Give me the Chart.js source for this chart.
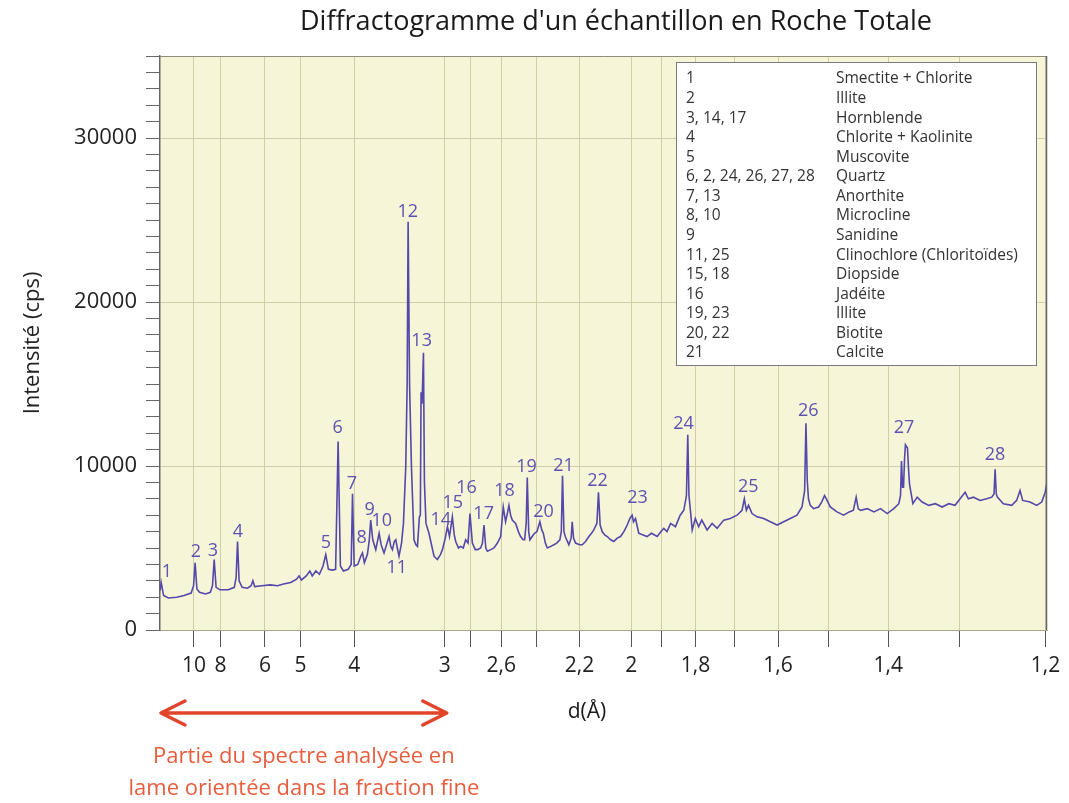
<!DOCTYPE html>
<html lang="fr">
<head>
<meta charset="utf-8">
<title>Diffractogramme - Roche Totale</title>
<script src="https://cdn.jsdelivr.net/npm/chart.js@4.4.1/dist/chart.umd.min.js"></script>
<style>
  html, body { margin: 0; padding: 0; background: #fff; }
  #wrap { width: 1069px; height: 803px; }
</style>
</head>
<body>
<div id="wrap"><canvas id="xrd" width="1069" height="803"></canvas></div>
<script>
// Cu K-alpha wavelength (Å), used to place the d-spacing ticks on the 2-theta axis
const LAMBDA = 1.5406;

// d-spacing ticks (Å) and their printed labels
const dTicks = [10, 8, 6, 5, 4, 3, 2.8, 2.6, 2.4, 2.2, 2, 1.9, 1.8, 1.7, 1.6, 1.5, 1.4, 1.3, 1.2];
const dTickLabels = ['10', '8', '6', '5', '4', '3', '', '2,6', '', '2,2', '2', '', '1,8', '', '1,6', '', '1,4', '', '1,2'];

// measured pattern: 2-theta (degrees) and intensity (cps)
const twoTheta = [
  6.0, 6.1, 6.3, 6.7, 7.4, 8.0, 8.6, 8.8, 8.93, 9.08,
  9.3, 9.8, 10.2, 10.38, 10.52, 10.68, 11.0, 11.7, 12.2, 12.35,
  12.47, 12.6, 12.85, 13.3, 13.6, 13.75, 13.9, 14.5, 15.2, 15.8,
  16.3, 16.9, 17.4, 17.6, 17.8, 18.2, 18.5, 18.7, 19.0, 19.3,
  19.6, 19.83, 20.05, 20.4, 20.65, 20.86, 21.05, 21.3, 21.7, 21.95,
  22.06, 22.2, 22.5, 22.75, 22.89, 23.05, 23.3, 23.45, 23.58, 23.75,
  24.0, 24.28, 24.45, 24.69, 24.9, 25.11, 25.25, 25.39, 25.55, 25.67,
  25.8, 25.94, 26.15, 26.31, 26.5, 26.62, 26.7, 26.82, 26.98, 27.19,
  27.35, 27.48, 27.64, 27.72, 27.78, 27.86, 27.98, 28.06, 28.19, 28.44,
  28.65, 28.86, 29.14, 29.4, 29.56, 29.8, 29.98, 30.15, 30.39, 30.55,
  30.67, 30.9, 31.08, 31.3, 31.5, 31.7, 31.86, 32.06, 32.3, 32.48,
  32.75, 32.9, 33.03, 33.18, 33.31, 33.6, 33.86, 34.15, 34.42, 34.64,
  34.83, 34.95, 35.11, 35.25, 35.39, 35.67, 35.9, 36.08, 36.3, 36.42,
  36.55, 36.64, 36.76, 36.86, 37.05, 37.25, 37.45, 37.69, 37.85, 37.98,
  38.15, 38.31, 38.6, 38.86, 39.1, 39.36, 39.48, 39.58, 39.7, 39.81,
  40.11, 40.3, 40.39, 40.5, 40.67, 41.0, 41.23, 41.5, 41.78, 42.0,
  42.19, 42.45, 42.58, 42.72, 42.89, 43.1, 43.31, 43.6, 43.86, 44.15,
  44.42, 44.7, 44.98, 45.2, 45.39, 45.5, 45.67, 45.94, 46.3, 46.64,
  47.0, 47.48, 47.8, 48.03, 48.3, 48.6, 49.0, 49.4, 49.7, 49.92,
  50.03, 50.13, 50.25, 50.4, 50.66, 50.94, 51.2, 51.64, 52.06, 52.48,
  53.03, 53.58, 54.14, 54.56, 54.75, 54.92, 55.1, 55.39, 55.81, 56.36,
  56.92, 57.48, 58.03, 58.58, 59.14, 59.56, 59.78, 59.89, 60.0, 60.1,
  60.25, 60.53, 60.94, 61.2, 61.44, 61.65, 61.92, 62.48, 63.03, 63.5,
  63.85, 64.08, 64.25, 64.44, 65.0, 65.56, 66.11, 66.67, 67.22, 67.64,
  67.78, 67.86, 67.95, 68.03, 68.12, 68.19, 68.36, 68.45, 68.53, 68.81,
  69.17, 69.58, 70.14, 70.69, 71.25, 71.81, 72.33, 72.75, 73.17, 73.44,
  73.86, 74.42, 74.97, 75.39, 75.58, 75.67, 75.77, 75.86, 76.36, 77.06,
  77.47, 77.75, 77.97, 78.58, 79.14, 79.56, 79.85, 79.97
];
const counts = [
  2400, 2900, 2100, 1950, 2000, 2100, 2250, 2700, 4100, 2500,
  2300, 2200, 2300, 2700, 4300, 2600, 2450, 2450, 2600, 3200,
  5400, 3000, 2600, 2550, 2700, 3000, 2650, 2700, 2750, 2700,
  2800, 2900, 3100, 3300, 3050, 3300, 3600, 3300, 3600, 3400,
  3900, 4600, 3700, 3650, 3700, 11500, 3900, 3600, 3700, 4000,
  8300, 3900, 4000, 4500, 4700, 4100, 4600, 5400, 6700, 5500,
  4900, 5900, 5200, 4700, 5200, 5700, 5100, 4900, 5400, 5500,
  5000, 4500, 5300, 6500, 9900, 15000, 24900, 15000, 9900, 5500,
  5200, 5100, 6900, 7000, 14500, 13800, 16900, 9000, 6500, 5900,
  5200, 4500, 4300, 4600, 4900, 5600, 6300, 5700, 6900, 5800,
  5400, 5000, 5100, 5000, 5500, 5300, 7100, 5300, 4900, 4900,
  5000, 5300, 6400, 5000, 4800, 4900, 5000, 5300, 5700, 7500,
  6600, 7000, 7600, 7000, 6700, 6500, 6000, 5700, 5500, 5500,
  6500, 9300, 6000, 5500, 5700, 5900, 6000, 6600, 6100, 5900,
  5300, 5000, 5100, 5200, 5300, 5500, 6000, 9400, 6000, 5700,
  5200, 5600, 6600, 5600, 5300, 5200, 5200, 5400, 5700, 5900,
  6100, 6500, 8400, 6400, 6000, 5800, 5700, 5500, 5400, 5600,
  5700, 6000, 6400, 6800, 7000, 6600, 6800, 5900, 5800, 5700,
  5900, 5700, 6000, 6200, 6000, 6500, 6300, 7000, 7300, 8200,
  11900, 8200, 7300, 6100, 6800, 6300, 6700, 6100, 6500, 6200,
  6700, 6800, 7000, 7300, 8000, 7300, 7600, 7100, 6900, 6800,
  6600, 6400, 6600, 6800, 7000, 7500, 8500, 12600, 9100, 8000,
  7600, 7400, 7500, 7800, 8200, 7900, 7500, 7200, 7000, 7200,
  7300, 8100, 7400, 7300, 7400, 7200, 7400, 7100, 7400, 7700,
  8200, 10300, 8700, 8700, 10500, 11300, 11100, 9800, 8900, 7700,
  8100, 7800, 7600, 7700, 7500, 7700, 7600, 8000, 8400, 8000,
  8100, 7900, 8000, 8100, 8300, 9800, 8300, 8100, 7700, 7600,
  7900, 8500, 7900, 7800, 7600, 7800, 8400, 8900
];

// peak numbers and where each number is written (2-theta, cps)
const peakIds = ['1', '2', '3', '4', '5', '6', '7', '8', '9', '10', '11', '12', '13', '14',
  '15', '16', '17', '18', '19', '20', '21', '22', '23', '24', '25', '26', '27', '28'];
const peakLabelTheta = [6.58, 9.0, 10.42, 12.5, 19.83, 20.83, 22.0, 22.83, 23.5, 24.5, 25.75, 26.67, 27.83, 29.42,
  30.42, 31.58, 33.0, 34.75, 36.58, 38.0, 39.67, 42.5, 45.83, 49.67, 55.08, 60.08, 68.08, 75.67];
const peakLabelCps = [3540, 4760, 4820, 5980, 5310, 12320, 8900, 5610, 7320, 6650, 3780, 25500, 17630, 6710,
  7750, 8660, 7080, 8480, 9940, 7200, 10000, 9090, 8050, 12570, 8720, 13360, 12320, 10680];

// mineral key
const keyPeaks = ['1', '2', '3, 14, 17', '4', '5', '6, 2, 24, 26, 27, 28', '7, 13', '8, 10', '9',
  '11, 25', '15, 18', '16', '19, 23', '20, 22', '21'];
const keyMinerals = ['Smectite + Chlorite', 'Illite', 'Hornblende', 'Chlorite + Kaolinite', 'Muscovite',
  'Quartz', 'Anorthite', 'Microcline', 'Sanidine', 'Clinochlore (Chloritoïdes)', 'Diopside',
  'Jadéite', 'Illite', 'Biotite', 'Calcite'];

function twoThetaOf(d) {
  return 2 * Math.asin(LAMBDA / (2 * d)) * 180 / Math.PI;
}

const FONT = "'Open Sans', 'Noto Sans', sans-serif";
const TRACE = '#5448aa';
const GRID = '#d0cda8';

// yellow plot background, frame, peak numbers, key, title and the red range arrow
const decorations = {
  id: 'decorations',
  beforeDraw(chart) {
    const a = chart.chartArea, ctx = chart.ctx;
    ctx.save();
    ctx.fillStyle = '#f7f5d8';
    ctx.fillRect(a.left, a.top, a.right - a.left, a.bottom - a.top);
    ctx.restore();
  },
  afterDraw(chart) {
    const a = chart.chartArea, ctx = chart.ctx;
    const xs = chart.scales.x, ys = chart.scales.y;
    ctx.save();

    // frame
    ctx.strokeStyle = '#8f8d7a';
    ctx.lineWidth = 1;
    ctx.beginPath();
    ctx.moveTo(a.left, a.top + 0.5);
    ctx.lineTo(a.right - 0.5, a.top + 0.5);
    ctx.stroke();
    ctx.strokeStyle = '#666';
    ctx.lineWidth = 1.5;
    ctx.beginPath();
    ctx.moveTo(a.right - 0.5, a.top);
    ctx.lineTo(a.right - 0.5, a.bottom);
    ctx.stroke();

    // peak numbers
    ctx.fillStyle = '#5d52b2';
    ctx.font = '18px ' + FONT;
    ctx.textAlign = 'center';
    ctx.textBaseline = 'middle';
    peakIds.forEach((id, i) => {
      ctx.fillText(id, xs.getPixelForValue(peakLabelTheta[i]), ys.getPixelForValue(peakLabelCps[i]));
    });

    // key box
    const bx = 676, by = 62, bw = 360, bh = 303;
    ctx.fillStyle = '#fff';
    ctx.fillRect(bx, by, bw, bh);
    ctx.strokeStyle = '#7a7a7a';
    ctx.lineWidth = 1;
    ctx.strokeRect(bx + 0.5, by + 0.5, bw, bh);
    ctx.fillStyle = '#333';
    ctx.font = '15.5px ' + FONT;
    ctx.textAlign = 'left';
    keyPeaks.forEach((p, i) => {
      const yy = 79 + i * 19.57;
      ctx.fillText(p, 686, yy);
      ctx.fillText(keyMinerals[i], 836, yy);
    });

    // title
    ctx.fillStyle = '#1a1a1a';
    ctx.font = '27px ' + FONT;
    ctx.textAlign = 'center';
    ctx.fillText("Diffractogramme d'un échantillon en Roche Totale", 616, 22);

    // x axis title
    ctx.font = '21px ' + FONT;
    ctx.fillText('d(Å)', 587, 712);

    // range covered by the oriented-slide analysis
    const x0 = xs.getPixelForValue(xs.min) + 1;
    const x1 = xs.getPixelForValue(twoThetaOf(3)) + 2;
    const ay = 713;
    ctx.strokeStyle = '#e0452c';
    ctx.lineWidth = 3.5;
    ctx.lineCap = 'round';
    ctx.lineJoin = 'round';
    ctx.beginPath();
    ctx.moveTo(x0, ay);
    ctx.lineTo(x1, ay);
    ctx.moveTo(x0 + 24, ay - 12);
    ctx.lineTo(x0, ay);
    ctx.lineTo(x0 + 24, ay + 12);
    ctx.moveTo(x1 - 24, ay - 12);
    ctx.lineTo(x1, ay);
    ctx.lineTo(x1 - 24, ay + 12);
    ctx.stroke();
    ctx.fillStyle = '#e85d3d';
    ctx.font = '22px ' + FONT;
    ctx.fillText('Partie du spectre analysée en', (x0 + x1) / 2, 757);
    ctx.fillText('lame orientée dans la fraction fine', (x0 + x1) / 2, 789);

    ctx.restore();
  }
};

new Chart(document.getElementById('xrd'), {
  type: 'line',
  data: {
    datasets: [{
      label: 'Roche Totale',
      data: twoTheta.map((t, i) => ({ x: t, y: counts[i] })),
      borderColor: TRACE,
      borderWidth: 1.6,
      pointRadius: 0,
      tension: 0,
      fill: false
    }]
  },
  options: {
    responsive: false,
    animation: false,
    layout: { padding: { top: 56, right: 22, left: 0, bottom: 0 } },
    plugins: {
      legend: { display: false },
      tooltip: { enabled: false }
    },
    scales: {
      x: {
        type: 'linear',
        min: 6,
        max: 80,
        afterFit(scale) { scale.height = 173; },
        afterBuildTicks(scale) {
          scale.ticks = dTicks.map(d => ({ value: twoThetaOf(d) }));
        },
        ticks: {
          autoSkip: false,
          maxRotation: 0,
          padding: 6,
          color: '#222',
          font: { family: FONT, size: 21 },
          callback: (v, i) => dTickLabels[i]
        },
        grid: { color: GRID, tickColor: '#555', tickLength: 17, lineWidth: 1 },
        border: { color: '#a9a68c', width: 1 }
      },
      y: {
        min: 0,
        max: 35000,
        afterFit(scale) { scale.width = 160; },
        ticks: {
          stepSize: 1000,
          autoSkip: false,
          padding: 9,
          color: '#222',
          font: { family: FONT, size: 22 },
          callback: v => (v % 10000 === 0 ? String(v) : '')
        },
        grid: {
          color: c => (c.tick && c.tick.value % 10000 === 0 && c.tick.value > 0 && c.tick.value < 35000) ? GRID : 'rgba(0,0,0,0)',
          tickColor: '#666',
          tickLength: 14,
          lineWidth: 1
        },
        border: { color: '#666', width: 1.5 },
        title: {
          display: true,
          text: 'Intensité (cps)',
          color: '#222',
          font: { family: FONT, size: 22 },
          padding: { top: 20 }
        }
      }
    }
  },
  plugins: [decorations]
});
</script>
</body>
</html>
